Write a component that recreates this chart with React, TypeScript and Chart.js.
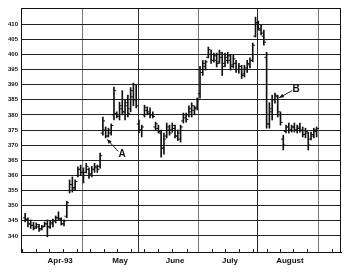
import React, { useEffect, useRef } from "react";
import { Chart, registerables } from "chart.js";

Chart.register(...registerables);

// Daily bars (trading-day index = array index), April – August 1993
const highs = [
  347.5, 346, 345.3, 344.5, 344.3, 343.8, 343.5, 344.6, 345.3, 345, 345.6, 346.6, 348, 346, 345.3, 351.5,
  358.5, 359.5, 358.5, 362.8, 363.4,
  362.5, 364, 362.5, 363, 364, 363.4, 367.4, 379.3, 376, 375.6, 377, 389.2, 381, 384.2, 388, 385, 386.5, 389, 390.5, 389.8,
  378.3, 376.6, 383.2, 382.6, 382.3, 381, 377.6, 376.6, 375, 374, 377.3, 376.6, 377.3, 376.6, 375, 376.6, 380.6, 380.6, 383, 384, 383, 385.6,
  396, 398, 398, 402.4, 401.4, 400.4, 400.4, 401.4, 400.7, 400.4, 400.7, 399.8, 399.8, 398, 397, 396.4, 396.4, 398, 398.8, 403.7, 412.3,
  411, 409.7, 408, 400.7, 384, 386.5, 387.2, 386.5, 381, 373.3, 376.6, 377.3, 376.6, 377.3, 376.6, 377.3, 376, 375.6, 374.3, 374.3, 375.6, 376,
];
const lows = [
  344.6, 343, 342.5, 342, 342.5, 341.5, 342, 343, 339.7, 342.5, 343, 344.3, 345.3, 343.6, 343.3, 346,
  354.2, 354.5, 355, 359.5, 360,
  357.5, 360.8, 359, 359.5, 361, 361, 362.4, 373.3, 372.4, 372.7, 373.3, 378.3, 379, 378.3, 380, 378.3, 379.3, 381, 383, 382.3,
  374, 372.7, 379.3, 380, 379, 379, 375, 374, 366, 367, 372.4, 373.3, 374.3, 372.4, 371.5, 371, 377.3, 377.6, 379.3, 379.3, 380, 381.6,
  385.5, 393, 394.8, 398.8, 397, 397.4, 395.8, 397, 393, 395.8, 397, 394.8, 395.5, 394, 393.8, 392, 392.5, 394, 395.5, 397.5, 405.7,
  408, 406.4, 403, 375.6, 375.6, 378.3, 383.9, 379.3, 376.6, 368.4, 374, 374, 374.3, 374.3, 374, 374.3, 372.7, 372.4, 368.4, 371.7, 372.4, 372.7,
];
const opens = [
  346, 345.5, 344, 343.5, 343, 343, 342.5, 343.2, 344, 343, 344, 345, 346, 345.5, 344, 346.5,
  355, 357, 356, 360, 362,
  361, 361, 362, 360.5, 362, 362.5, 363, 374, 375, 373, 374, 380, 380.5, 380, 382, 381, 383, 382, 386, 385,
  377, 375, 380, 381.5, 380.5, 380, 376, 375.5, 374, 369, 373, 375, 375, 375.5, 373, 372, 378, 379, 380, 381, 381.5, 382.5,
  387, 394, 396, 399, 400, 398, 398, 397.5, 399, 397, 398, 398, 396.5, 397, 395, 395, 393.5, 395, 396.5, 398, 406,
  410, 408, 406, 399, 377, 381, 385, 386, 380, 372, 374.5, 376, 375, 376, 375, 375.5, 375, 373.5, 374, 372, 373, 374.5,
];
const closes = [
  345.5, 344, 343.5, 342.5, 343.8, 342, 343, 344, 343, 344.5, 345, 346, 345.8, 344, 345, 351,
  357, 355.5, 358, 362, 361,
  360, 363, 360.5, 362, 363, 362, 366.5, 378, 373, 375, 376.5, 388, 379.5, 383, 381, 384, 380.5, 388, 385, 383,
  375, 376, 382.5, 381, 380, 379.5, 377, 374.5, 369, 372, 376, 374, 376.5, 373, 374, 376, 380, 378.5, 382, 383, 382, 385,
  395, 397, 397.5, 401.5, 398, 399.5, 397, 400.5, 396, 399, 399.5, 396, 398.5, 395, 396, 393, 395.5, 397, 398, 403, 410.5,
  408.5, 407, 404, 377, 382, 385, 386.5, 381, 377.5, 370, 376, 375, 376, 375, 376, 374.8, 373.5, 374.5, 370, 373.5, 375, 375.5,
];

// Axis content
const yTicks = [340, 345, 350, 355, 360, 365, 370, 375, 380, 385, 390, 395, 400, 405, 410];
const monthLabels = ["Apr-93", "May", "June", "July", "August"];
const monthLabelPos = [12.6, 34.2, 54.0, 73.8, 95.4];
const monthBounds = [20.5, 40.7, 62.5, 83.7, 105.8];
const monthBoundColors = ["#777", "#333", "#777", "#222", "#777"];
const weekTicks = [-1, 3.9, 8.6, 13.7, 18.7, 23.4, 28.4, 33.1, 38.1, 42.8, 47.9, 52.9, 58.3, 67.3, 72.0, 77.0, 82.1, 87.1, 91.8, 96.5, 101.6, 110.5];

// Annotations: label, bar index, value the arrow points to
const notes = [
  { label: "A", idx: 29, value: 372.4, dx: 11, dy: 12 },
  { label: "B", idx: 91, value: 386.5, dx: 13, dy: -7 },
];

const FONT = "'Liberation Sans', Arial, Helvetica, sans-serif";

const framePlugin = {
  id: "frameAndNotes",
  afterDraw(chart: any) {
    const { ctx, chartArea } = chart;
    const xs = chart.scales.x;
    const ys = chart.scales.y;
    ctx.save();
    ctx.strokeStyle = "#111";
    ctx.lineWidth = 1;
    // top & right frame
    ctx.beginPath();
    ctx.moveTo(chartArea.left, chartArea.top + 0.5);
    ctx.lineTo(chartArea.right, chartArea.top + 0.5);
    ctx.moveTo(chartArea.right - 0.5, chartArea.top);
    ctx.lineTo(chartArea.right - 0.5, chartArea.bottom);
    ctx.stroke();
    // weekly ticks on the bottom axis, pointing inward
    ctx.strokeStyle = "#222";
    ctx.beginPath();
    for (const w of weekTicks) {
      const px = Math.round(xs.getPixelForValue(w)) + 0.5;
      ctx.moveTo(px, chartArea.bottom);
      ctx.lineTo(px, chartArea.bottom - 3);
    }
    ctx.stroke();
    // arrows with letters
    ctx.fillStyle = "#111";
    ctx.font = `bold 10px ${FONT}`;
    ctx.textAlign = "center";
    ctx.textBaseline = "middle";
    for (const n of notes) {
      const tx = xs.getPixelForValue(n.idx) + 1.5;
      const ty = ys.getPixelForValue(n.value) + (n.dy > 0 ? 1.5 : 2.5);
      const ex = tx + n.dx;
      const ey = ty + n.dy;
      ctx.beginPath();
      ctx.moveTo(ex, ey);
      ctx.lineTo(tx, ty);
      ctx.stroke();
      const ang = Math.atan2(ty - ey, tx - ex);
      const L = 4.5, W = 2;
      ctx.beginPath();
      ctx.moveTo(tx, ty);
      ctx.lineTo(tx - L * Math.cos(ang) + W * Math.sin(ang), ty - L * Math.sin(ang) - W * Math.cos(ang));
      ctx.lineTo(tx - L * Math.cos(ang) - W * Math.sin(ang), ty - L * Math.sin(ang) + W * Math.cos(ang));
      ctx.closePath();
      ctx.fill();
      ctx.fillText(n.label, ex + 4, ey + (n.dy > 0 ? 3 : -1));
    }
    ctx.restore();
  },
};

export default function App() {
  const ref = useRef<HTMLCanvasElement | null>(null);

  useEffect(() => {
    if (!ref.current) return;
    const hl = highs.map((h, i) => ({ x: i, y: [lows[i], h] }));
    const op = opens.map((o, i) => ({ x: i - 0.4, y: o }));
    const cl = closes.map((c, i) => ({ x: i + 0.4, y: c }));
    const allTicks = [...monthBounds, ...monthLabelPos].sort((a, b) => a - b);

    const chart = new Chart(ref.current, {
      type: "bar",
      data: {
        datasets: [
          {
            type: "bar",
            data: hl as any,
            backgroundColor: "#111",
            barThickness: 1,
            borderWidth: 0,
          },
          {
            type: "scatter",
            data: op,
            pointStyle: "line",
            pointRadius: 1.1,
            borderColor: "#111",
            borderWidth: 1,
          } as any,
          {
            type: "scatter",
            data: cl,
            pointStyle: "line",
            pointRadius: 1.1,
            borderColor: "#111",
            borderWidth: 1,
          } as any,
        ],
      },
      options: {
        responsive: false,
        animation: false,
        devicePixelRatio: 1,
        layout: { padding: { left: 0, top: 8, right: 8, bottom: 0 } },
        plugins: { legend: { display: false }, tooltip: { enabled: false } },
        scales: {
          x: {
            type: "linear",
            min: -1.5,
            max: 113.8,
            offset: false,
            afterBuildTicks: (s: any) => {
              s.ticks = allTicks.map((v) => ({ value: v }));
            },
            afterFit: (s: any) => {
              s.height = 23;
            },
            grid: {
              offset: false,
              drawTicks: false,
              color: (c: any) => {
                const k = c.tick ? monthBounds.indexOf(c.tick.value) : -1;
                return k >= 0 ? monthBoundColors[k] : "rgba(0,0,0,0)";
              },
              lineWidth: 1,
            },
            border: { display: true, color: "#111", width: 1 },
            ticks: {
              autoSkip: false,
              maxRotation: 0,
              padding: 4,
              color: "#111",
              font: { family: FONT, size: 8, weight: "bold" },
              callback: (v: any) => {
                const k = monthLabelPos.indexOf(Number(v));
                return k >= 0 ? monthLabels[k] : "";
              },
            },
          },
          y: {
            type: "linear",
            min: 334.7,
            max: 415.3,
            afterBuildTicks: (s: any) => {
              s.ticks = yTicks.map((v) => ({ value: v }));
            },
            afterFit: (s: any) => {
              s.width = 21;
            },
            grid: { drawTicks: false, color: "#222", lineWidth: 1 },
            border: { display: true, color: "#111", width: 1 },
            ticks: {
              padding: 3,
              color: "#111",
              font: { family: FONT, size: 6, weight: "bold" },
              callback: (v: any) => String(v),
            },
          },
        },
      } as any,
      plugins: [framePlugin],
    });
    return () => chart.destroy();
  }, []);

  return (
    <div style={{ position: "fixed", left: 0, top: 0, width: 349, height: 275, background: "#fff" }}>
      <canvas ref={ref} width={349} height={275} style={{ width: 349, height: 275, display: "block" }} />
    </div>
  );
}
